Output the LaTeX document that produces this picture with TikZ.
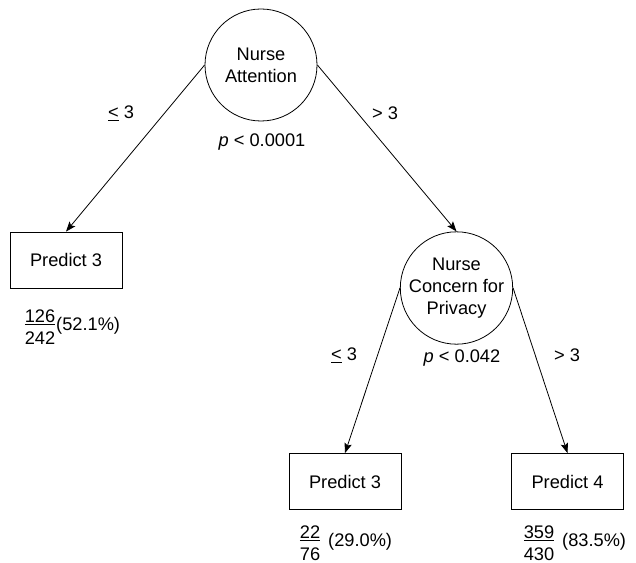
\documentclass[tikz,border=0pt]{standalone}
\usepackage{fontspec}
\setmainfont{Liberation Sans}
\usetikzlibrary{arrows.meta}
\begin{document}
\begin{tikzpicture}[x=1bp,y=-1bp,
  every node/.style={font=\fontsize{18.3}{22}\selectfont},
  split/.style={draw,circle,minimum size=112bp,inner sep=0pt,align=center,line width=0.8bp},
  leaf/.style={draw,rectangle,minimum width=112bp,minimum height=56bp,inner sep=0pt,line width=0.8bp},
  lbl/.style={inner sep=0pt},
  conn/.style={line width=0.8bp,-{Stealth[length=10bp,width=7.5bp,inset=2bp]}}]
\useasboundingbox (0,0) rectangle (636,563);
\node[split] (c1) at (261,65) {Nurse\\Attention};
\node[split] (c2) at (456.5,288) {Nurse\\Concern for\\Privacy};
\node[leaf] (b1) at (66,260) {Predict 3};
\node[leaf] (b2) at (345,481.5) {Predict 3};
\node[leaf] (b3) at (567.5,481.5) {Predict 4};
\draw[conn] (c1.west) -- (b1.north);
\draw[conn] (c1.east) -- (c2.north);
\draw[conn] (c2.west) -- (b2.north);
\draw[conn] (c2.east) -- (b3.north);
\node[lbl] (l1) at (121,113) {\underline{<} 3};
\node[lbl] (l2) at (385,113) {> 3};
\node[lbl] (p1) at (262,142) {\textit{p} < 0.0001};
\node[lbl] (l3) at (344,355) {\underline{<} 3};
\node[lbl] (l4) at (567,355) {> 3};
\node[lbl] (p2) at (462,358) {\textit{p} < 0.042};
\node[lbl,align=center] (f1) at (40,327) {\underline{126}\\242};
\node[lbl,anchor=west] (q1) at (56,326) {(52.1\%)};
\node[lbl,align=center] (f2) at (310,543) {\underline{22}\\76};
\node[lbl,anchor=west] (q2) at (328,542) {(29.0\%)};
\node[lbl,align=center] (f3) at (539,543) {\underline{359}\\430};
\node[lbl,anchor=west] (q3) at (562,542) {(83.5\%)};
\end{tikzpicture}
\end{document}
